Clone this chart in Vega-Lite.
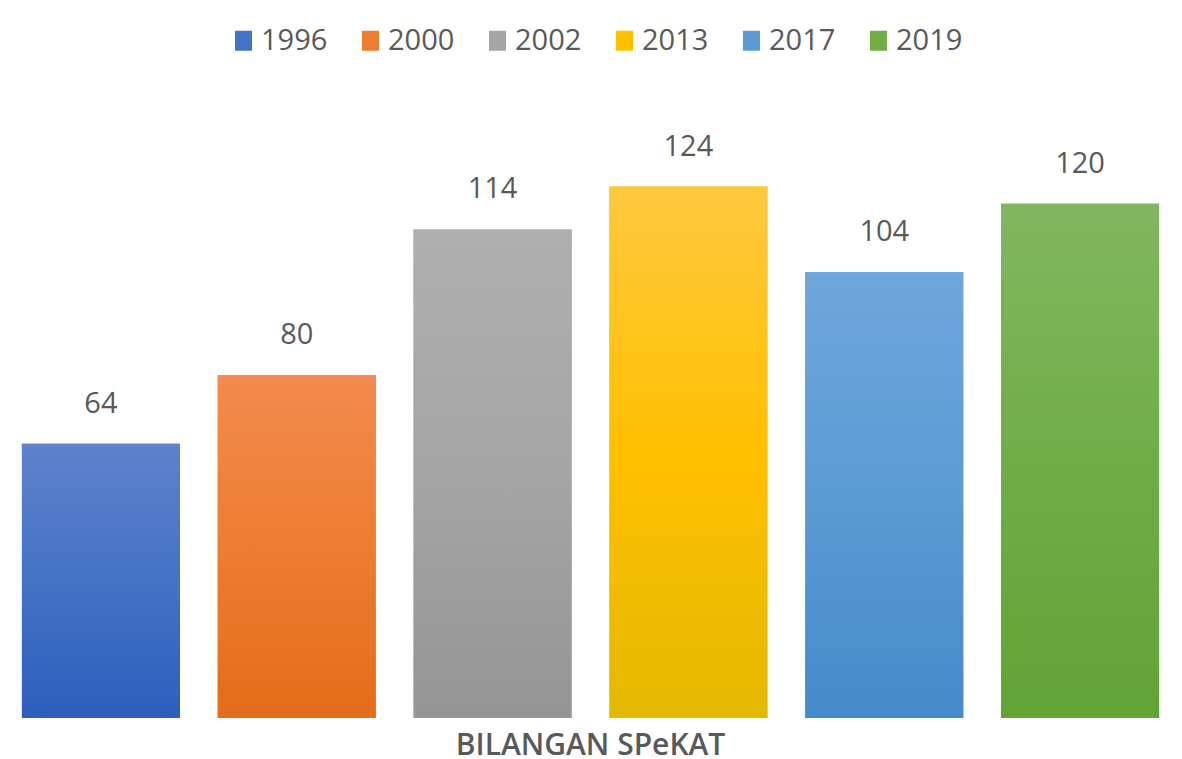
{
  "$schema": "https://vega.github.io/schema/vega-lite/v6.json",
  "autosize": {"type": "none"},
  "padding": {"left": 3, "top": 118, "right": 4, "bottom": 41},
  "width": 1175,
  "height": 600,
  "background": "white",
  "config": {
    "view": {"stroke": null},
    "font": "Open Sans"
  },
  "data": {
    "values": [
      {"kategori": "BILANGAN SPeKAT", "tahun": "1996", "nilai": 64},
      {"kategori": "BILANGAN SPeKAT", "tahun": "2000", "nilai": 80},
      {"kategori": "BILANGAN SPeKAT", "tahun": "2002", "nilai": 114},
      {"kategori": "BILANGAN SPeKAT", "tahun": "2013", "nilai": 124},
      {"kategori": "BILANGAN SPeKAT", "tahun": "2017", "nilai": 104},
      {"kategori": "BILANGAN SPeKAT", "tahun": "2019", "nilai": 120}
    ]
  },
  "encoding": {
    "x": {
      "field": "kategori",
      "type": "nominal",
      "scale": {"paddingInner": 0, "paddingOuter": 0},
      "axis": {
        "title": null,
        "domain": false,
        "ticks": false,
        "tickSize": 0,
        "labelAngle": 0,
        "labelLimit": 0,
        "labelFont": "Open Sans",
        "labelFontSize": 30,
        "labelFontWeight": 600,
        "labelColor": "#595959",
        "labelBaseline": "alphabetic",
        "labelPadding": 36
      }
    },
    "xOffset": {
      "field": "tahun",
      "type": "nominal",
      "scale": {"paddingInner": 0.193, "paddingOuter": 0.0965}
    },
    "y": {
      "field": "nilai",
      "type": "quantitative",
      "scale": {"domain": [0, 140], "nice": false, "zero": true},
      "axis": null
    }
  },
  "layer": [
    {
      "mark": {"type": "bar"},
      "encoding": {
        "color": {
          "field": "tahun",
          "type": "nominal",
          "scale": {
            "domain": ["1996", "2000", "2002", "2013", "2017", "2019"],
            "range": ["#4472C4", "#ED7D31", "#A5A5A5", "#FFC000", "#5B9BD5", "#70AD47"]
          },
          "legend": {
            "title": null,
            "orient": "none",
            "direction": "horizontal",
            "legendX": 226,
            "legendY": -92,
            "symbolType": "M-0.85,-1H0.85V1H-0.85Z",
            "symbolSize": 400,
            "symbolStrokeWidth": 0,
            "symbolOpacity": 1,
            "labelFont": "Open Sans",
            "labelFontSize": 29,
            "labelColor": "#595959",
            "labelOffset": 3,
            "columnPadding": 28,
            "padding": 0
          }
        }
      }
    },
    {
      "transform": [{"filter": "datum.tahun == '1996'"}],
      "mark": {"type": "bar", "color": {"gradient": "linear", "x1": 0, "y1": 0, "x2": 0, "y2": 1, "stops": [{"offset": 0, "color": "#5E82CC"}, {"offset": 0.5, "color": "#4472C4"}, {"offset": 1, "color": "#2E5EBD"}]}}
    },
    {
      "transform": [{"filter": "datum.tahun == '2000'"}],
      "mark": {"type": "bar", "color": {"gradient": "linear", "x1": 0, "y1": 0, "x2": 0, "y2": 1, "stops": [{"offset": 0, "color": "#F38A4E"}, {"offset": 0.5, "color": "#ED7D31"}, {"offset": 1, "color": "#E46C1A"}]}}
    },
    {
      "transform": [{"filter": "datum.tahun == '2002'"}],
      "mark": {"type": "bar", "color": {"gradient": "linear", "x1": 0, "y1": 0, "x2": 0, "y2": 1, "stops": [{"offset": 0, "color": "#AFAFAF"}, {"offset": 0.5, "color": "#A5A5A5"}, {"offset": 1, "color": "#959595"}]}}
    },
    {
      "transform": [{"filter": "datum.tahun == '2013'"}],
      "mark": {"type": "bar", "color": {"gradient": "linear", "x1": 0, "y1": 0, "x2": 0, "y2": 1, "stops": [{"offset": 0, "color": "#FFC83F"}, {"offset": 0.5, "color": "#FFC000"}, {"offset": 1, "color": "#E5B800"}]}}
    },
    {
      "transform": [{"filter": "datum.tahun == '2017'"}],
      "mark": {"type": "bar", "color": {"gradient": "linear", "x1": 0, "y1": 0, "x2": 0, "y2": 1, "stops": [{"offset": 0, "color": "#70A6DB"}, {"offset": 0.5, "color": "#5B9BD5"}, {"offset": 1, "color": "#458ACA"}]}}
    },
    {
      "transform": [{"filter": "datum.tahun == '2019'"}],
      "mark": {"type": "bar", "color": {"gradient": "linear", "x1": 0, "y1": 0, "x2": 0, "y2": 1, "stops": [{"offset": 0, "color": "#82B660"}, {"offset": 0.5, "color": "#70AD47"}, {"offset": 1, "color": "#62A335"}]}}
    },
    {
      "mark": {
        "type": "text",
        "baseline": "alphabetic",
        "dy": -31,
        "font": "Open Sans",
        "fontSize": 29,
        "color": "#595959"
      },
      "encoding": {
        "text": {"field": "nilai", "type": "quantitative"}
      }
    }
  ]
}
